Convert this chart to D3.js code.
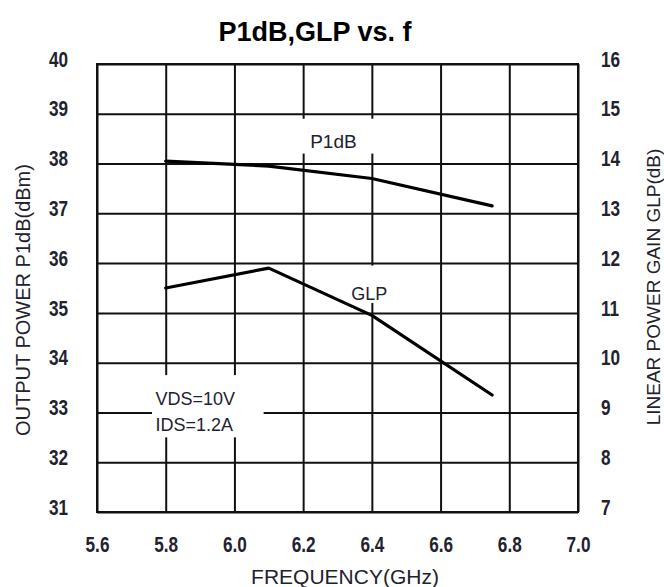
<!DOCTYPE html>
<meta charset="utf-8">
<head>
  <style>
    body { margin: 0; background: #fff; }
    .tick text { font-family: "Liberation Sans", Arial, sans-serif; font-size: 22px; font-weight: bold; fill: #22222e; }
  </style>
</head>
<body>
<div id="chart"></div>
<script src="https://cdn.jsdelivr.net/npm/d3@7"></script>
<script>

// frequency points (GHz)
var freqP1dB = [5.8, 6.1, 6.4, 6.75];
var p1dB = [38.05, 37.95, 37.7, 37.15];      // dBm, left axis
var freqGLP = [5.8, 6.1, 6.4, 6.75];
var glp = [11.5, 11.9, 10.95, 9.35];         // dB, right axis

var xTicks = [5.6, 5.8, 6.0, 6.2, 6.4, 6.6, 6.8, 7.0];
var leftTicks = [31, 32, 33, 34, 35, 36, 37, 38, 39, 40];
var rightTicks = [7, 8, 9, 10, 11, 12, 13, 14, 15, 16];

var W = 664, H = 587;
var mLeft = 97, mRight = 578, mTop = 64, mBottom = 512;
var squeeze = 0.78; // tick digits are narrow in the original

var svg = d3.select("#chart").append("svg")
  .attr("width", W)
  .attr("height", H);

var x = d3.scaleLinear().domain([5.6, 7.0]).range([mLeft, mRight]);
var yL = d3.scaleLinear().domain([31, 40]).range([mBottom, mTop]);
var yR = d3.scaleLinear().domain([7, 16]).range([mBottom, mTop]);

// title
svg.append("text")
  .attr("x", 315).attr("y", 41)
  .attr("text-anchor", "middle")
  .style("font-family", "Liberation Sans, Arial, sans-serif")
  .style("font-weight", "bold")
  .style("font-size", "27px")
  .text("P1dB,GLP vs. f");

// grid (via axes)
var gx = svg.append("g")
  .attr("transform", "translate(0," + mBottom + ")")
  .call(d3.axisBottom(x).tickValues(xTicks).tickSize(-(mBottom - mTop)).tickPadding(20)
    .tickFormat(d3.format(".1f")));
var gl = svg.append("g")
  .attr("transform", "translate(" + mLeft + ",0)")
  .call(d3.axisLeft(yL).tickValues(leftTicks).tickSize(-(mRight - mLeft)).tickPadding(29)
    .tickFormat(d3.format("d")));
var gr = svg.append("g")
  .attr("transform", "translate(" + mRight + ",0)")
  .call(d3.axisRight(yR).tickValues(rightTicks).tickSize(0).tickPadding(23)
    .tickFormat(d3.format("d")));

[gx, gl, gr].forEach(function(g) {
  g.select(".domain").remove();
  g.selectAll(".tick line").attr("stroke", "#111").attr("stroke-width", 2);
});
gx.selectAll(".tick text").attr("dy", "0.9em")
  .attr("transform", "scale(" + squeeze + ",1)");
gl.selectAll(".tick text").attr("dy", "0.1em")
  .attr("x", -29 / squeeze)
  .attr("transform", "scale(" + squeeze + ",1)");
gr.selectAll(".tick text").attr("dy", "0.1em")
  .attr("x", 23 / squeeze)
  .attr("transform", "scale(" + squeeze + ",1)");

// frame
svg.append("rect")
  .attr("x", mLeft).attr("y", mTop)
  .attr("width", mRight - mLeft).attr("height", mBottom - mTop)
  .attr("fill", "none").attr("stroke", "#111").attr("stroke-width", 2);

// white patches behind in-plot labels (grid is broken there)
svg.append("rect")
  .attr("x", x(6.15)).attr("y", yL(38.9))
  .attr("width", x(6.45) - x(6.15)).attr("height", yL(38.2) - yL(38.9))
  .attr("fill", "#fff");
svg.append("rect")
  .attr("x", x(6.32)).attr("y", yR(11.95))
  .attr("width", x(6.5) - x(6.32)).attr("height", yR(11.2) - yR(11.95))
  .attr("fill", "#fff");
svg.append("rect")
  .attr("x", x(5.76)).attr("y", yL(33.75))
  .attr("width", x(6.085) - x(5.76)).attr("height", yL(32.5) - yL(33.75))
  .attr("fill", "#fff");

// curves
var lineL = d3.line().x(function(d) { return x(d[0]); }).y(function(d) { return yL(d[1]); });
var lineR = d3.line().x(function(d) { return x(d[0]); }).y(function(d) { return yR(d[1]); });

svg.append("path")
  .datum(d3.zip(freqP1dB, p1dB))
  .attr("d", lineL)
  .attr("fill", "none").attr("stroke", "#000").attr("stroke-width", 3.2)
  .attr("stroke-linejoin", "round").attr("stroke-linecap", "round");

svg.append("path")
  .datum(d3.zip(freqGLP, glp))
  .attr("d", lineR)
  .attr("fill", "none").attr("stroke", "#000").attr("stroke-width", 3.2)
  .attr("stroke-linejoin", "round").attr("stroke-linecap", "round");

// labels in the plot
var lab = function(px, py, t, size) {
  svg.append("text")
    .attr("x", px).attr("y", py)
    .style("font-family", "Liberation Sans, Arial, sans-serif")
    .style("font-size", size + "px")
    .attr("fill", "#22222e")
    .text(t);
};
lab(x(6.2) + 7, yL(38) - 16, "P1dB", 19);
lab(x(6.34), yR(11.4) + 7, "GLP", 18);
lab(x(5.77), yL(33.15), "VDS=10V", 18);
lab(x(5.77), yL(32.63), "IDS=1.2A", 18);

// axis titles
svg.append("text")
  .attr("transform", "translate(30," + ((mTop + mBottom) / 2 + 12) + ")rotate(-90)")
  .attr("text-anchor", "middle")
  .style("font-family", "Liberation Sans, Arial, sans-serif")
  .style("font-size", "20px")
  .attr("fill", "#22222e")
  .text("OUTPUT POWER P1dB(dBm)");

svg.append("text")
  .attr("transform", "translate(660," + ((mTop + mBottom) / 2 - 1) + ")rotate(-90)")
  .attr("text-anchor", "middle")
  .style("font-family", "Liberation Sans, Arial, sans-serif")
  .style("font-size", "19px")
  .attr("fill", "#22222e")
  .text("LINEAR POWER GAIN GLP(dB)");

svg.append("text")
  .attr("x", 345).attr("y", 584)
  .attr("text-anchor", "middle")
  .style("font-family", "Liberation Sans, Arial, sans-serif")
  .style("font-size", "21px")
  .attr("fill", "#22222e")
  .text("FREQUENCY(GHz)");

</script>
</body>
